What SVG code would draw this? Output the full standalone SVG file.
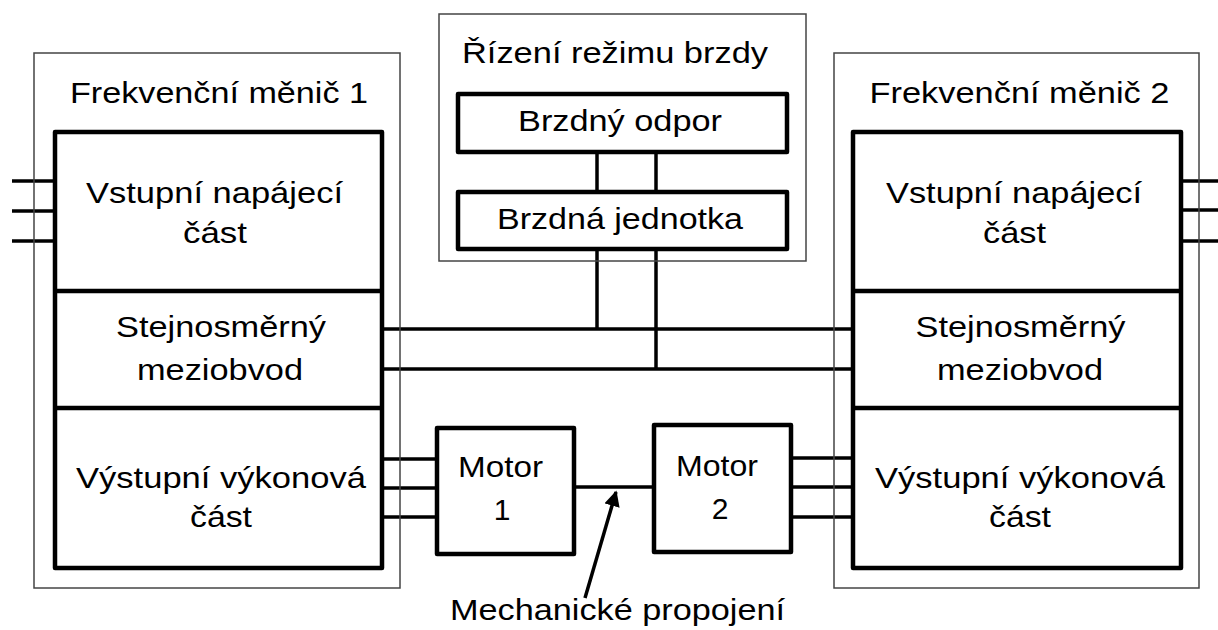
<svg xmlns="http://www.w3.org/2000/svg" width="1218" height="630" viewBox="0 0 1218 630">
<defs>
<style>
.outer{fill:none;stroke:#444;stroke-width:1.5}
.box{fill:none;stroke:#000;stroke-width:4.5;stroke-linejoin:round}
.wire{stroke:#000;stroke-width:3.5;fill:none}
.lbl{font-family:"Liberation Sans",Arial,sans-serif;font-size:30px;fill:#000;text-anchor:middle}
</style>
<marker id="ah" viewBox="0 0 10 10" refX="9" refY="5" markerWidth="4.5" markerHeight="4.5" orient="auto" markerUnits="strokeWidth">
<path d="M0,0 L10,5 L0,10 z" fill="#000"/>
</marker>
</defs>
<rect width="1218" height="630" fill="#fff"/>

<g id="connectors">
<!-- inputs left -->
<line class="wire" x1="12" y1="181" x2="55" y2="181"/>
<line class="wire" x1="12" y1="211" x2="55" y2="211"/>
<line class="wire" x1="12" y1="241" x2="55" y2="241"/>
<!-- inputs right -->
<line class="wire" x1="1181" y1="181" x2="1218" y2="181"/>
<line class="wire" x1="1181" y1="210" x2="1218" y2="210"/>
<line class="wire" x1="1181" y1="241" x2="1218" y2="241"/>
<!-- DC bus -->
<line class="wire" x1="382" y1="329" x2="853" y2="329"/>
<line class="wire" x1="382" y1="369" x2="853" y2="369"/>
<line class="wire" x1="597" y1="152" x2="597" y2="192"/>
<line class="wire" x1="656" y1="152" x2="656" y2="192"/>
<line class="wire" x1="597" y1="249" x2="597" y2="329"/>
<line class="wire" x1="656" y1="249" x2="656" y2="369"/>
<!-- motor 1 -->
<line class="wire" x1="382" y1="459" x2="437" y2="459"/>
<line class="wire" x1="382" y1="488" x2="437" y2="488"/>
<line class="wire" x1="382" y1="517" x2="437" y2="517"/>
<!-- motor 2 -->
<line class="wire" x1="791" y1="458" x2="853" y2="458"/>
<line class="wire" x1="791" y1="487" x2="853" y2="487"/>
<line class="wire" x1="791" y1="517" x2="853" y2="517"/>
<!-- shaft -->
<line class="wire" x1="574" y1="487" x2="654" y2="487" stroke-width="3"/>
<!-- pointer arrow -->
<line x1="585" y1="598" x2="616" y2="492" stroke="#000" stroke-width="3.5" marker-end="url(#ah)"/>
</g>

<g id="menic1">
<rect class="outer" x="34" y="53" width="366" height="535"/>
<text class="lbl" x="219" y="103" textLength="298" lengthAdjust="spacingAndGlyphs">Frekvenční měnič 1</text>
<rect class="box" x="55" y="132" width="327" height="436"/>
<line class="box" x1="55" y1="291" x2="382" y2="291"/>
<line class="box" x1="55" y1="408" x2="382" y2="408"/>
<text class="lbl" x="214.5" y="203" textLength="257" lengthAdjust="spacingAndGlyphs">Vstupní napájecí</text>
<text class="lbl" x="215" y="243" textLength="64" lengthAdjust="spacingAndGlyphs">část</text>
<text class="lbl" x="221" y="337" textLength="210" lengthAdjust="spacingAndGlyphs">Stejnosměrný</text>
<text class="lbl" x="220" y="380" textLength="166" lengthAdjust="spacingAndGlyphs">meziobvod</text>
<text class="lbl" x="221" y="488" textLength="290" lengthAdjust="spacingAndGlyphs">Výstupní výkonová</text>
<text class="lbl" x="221" y="527" textLength="62" lengthAdjust="spacingAndGlyphs">část</text>
</g>

<g id="menic2">
<rect class="outer" x="834" y="53" width="365" height="535"/>
<text class="lbl" x="1019.5" y="103" textLength="300" lengthAdjust="spacingAndGlyphs">Frekvenční měnič 2</text>
<rect class="box" x="853" y="132" width="328" height="436"/>
<line class="box" x1="853" y1="291" x2="1181" y2="291"/>
<line class="box" x1="853" y1="408" x2="1181" y2="408"/>
<text class="lbl" x="1014" y="203" textLength="256" lengthAdjust="spacingAndGlyphs">Vstupní napájecí</text>
<text class="lbl" x="1014.5" y="243" textLength="63" lengthAdjust="spacingAndGlyphs">část</text>
<text class="lbl" x="1020.5" y="337" textLength="210" lengthAdjust="spacingAndGlyphs">Stejnosměrný</text>
<text class="lbl" x="1020" y="380" textLength="166" lengthAdjust="spacingAndGlyphs">meziobvod</text>
<text class="lbl" x="1020" y="488" textLength="290" lengthAdjust="spacingAndGlyphs">Výstupní výkonová</text>
<text class="lbl" x="1020" y="527" textLength="62" lengthAdjust="spacingAndGlyphs">část</text>
</g>

<g id="brzda">
<rect class="outer" x="439" y="14" width="367" height="247"/>
<text class="lbl" x="615" y="63" textLength="306" lengthAdjust="spacingAndGlyphs">Řízení režimu brzdy</text>
</g>

<g id="odpor">
<rect class="box" x="458" y="94" width="329" height="58"/>
<text class="lbl" x="620" y="131" textLength="204" lengthAdjust="spacingAndGlyphs">Brzdný odpor</text>
</g>

<g id="jednotka">
<rect class="box" x="458" y="192" width="329" height="57"/>
<text class="lbl" x="620" y="229" textLength="246" lengthAdjust="spacingAndGlyphs">Brzdná jednotka</text>
</g>

<g id="motor1">
<rect class="box" x="437" y="428" width="137" height="126"/>
<text class="lbl" x="500.5" y="477" textLength="85" lengthAdjust="spacingAndGlyphs">Motor</text>
<text class="lbl" x="502" y="520">1</text>
</g>

<g id="motor2">
<rect class="box" x="654" y="425" width="137" height="127"/>
<text class="lbl" x="717" y="476" textLength="82" lengthAdjust="spacingAndGlyphs">Motor</text>
<text class="lbl" x="720" y="519">2</text>
</g>

<g id="mech">
<text class="lbl" x="617.5" y="620" textLength="335" lengthAdjust="spacingAndGlyphs">Mechanické propojení</text>
</g>
</svg>
